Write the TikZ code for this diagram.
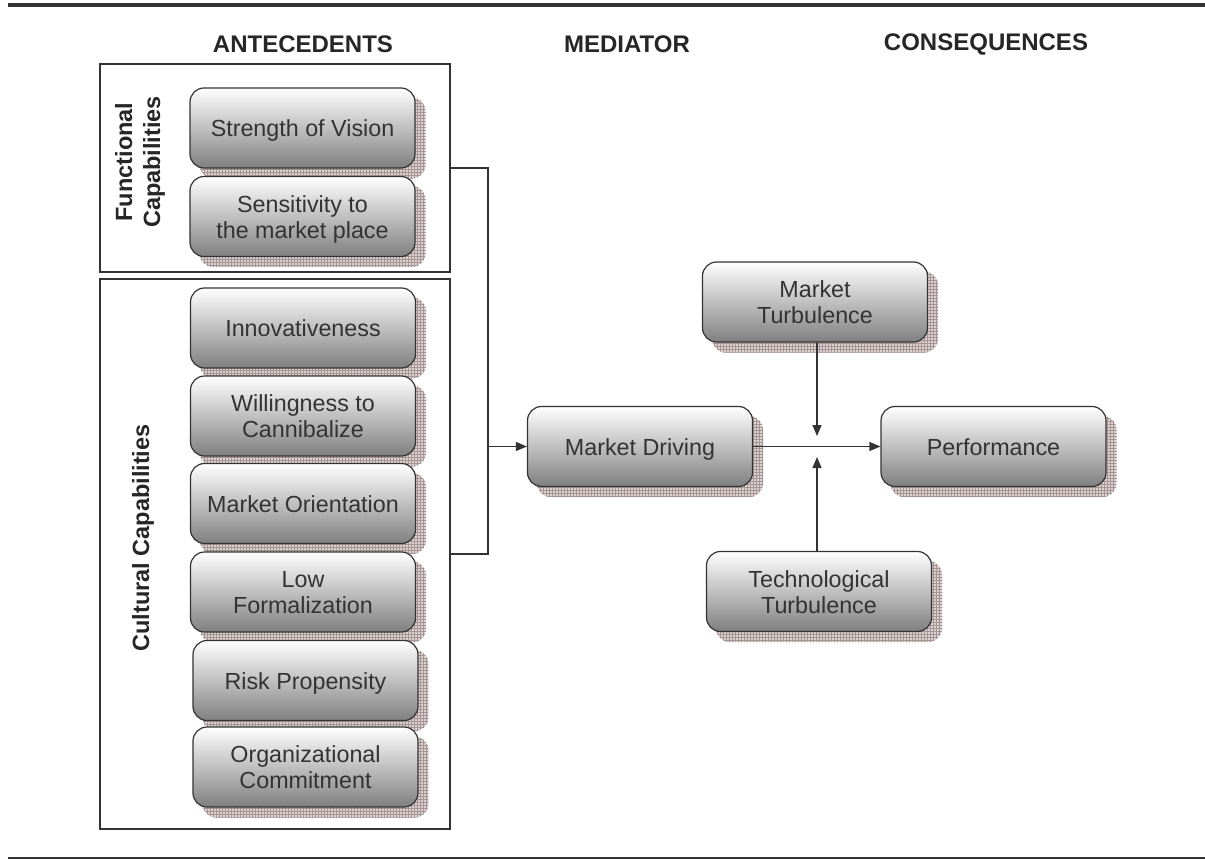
\documentclass[tikz,border=0pt]{standalone}
\usepackage{fontspec}
\setmainfont{Liberation Sans}
\usetikzlibrary{patterns,backgrounds,arrows.meta}
\definecolor{ink}{HTML}{333333}
\definecolor{shadowc}{HTML}{DDD2D2}
\definecolor{gridc}{HTML}{A49494}
\newcommand\tsx{\rule{0pt}{23pt}}
\newcommand\bsx{\rule[-6pt]{0pt}{6pt}}
\begin{document}
\begin{tikzpicture}[x=1pt,y=-1pt,
  box/.style={draw=ink, line width=1.2pt, rounded corners=14pt, top color=white,
    bottom color=black!50, minimum width=225pt, minimum height=80pt, align=center,
    text=black!80, font=\fontsize{23.3}{26}\selectfont, inner sep=0pt},
  frame/.style={draw=ink, line width=1.1pt, inner sep=0pt},
  hdr/.style={font=\fontsize{24}{28}\selectfont\bfseries, text=black!85, inner sep=0pt},
  vlab/.style={font=\fontsize{23.5}{28}\selectfont\bfseries, text=black!85, align=center, rotate=90, inner sep=0pt},
  ln/.style={draw=ink, line width=1.2pt},
  arr/.style={ln, -{Triangle[length=11pt,width=9pt]}},
  shd/.style={rounded corners=14pt}]
\useasboundingbox (0,0) rectangle (1205,859);
\fill[ink] (8,3) rectangle (1205,7.5);
\fill[ink] (8,856.5) rectangle (1205,859);

\node[hdr] (h1) at (303,44) {ANTECEDENTS};
\node[hdr] (h2) at (627,44) {MEDIATOR};
\node[hdr] (h3) at (986,44) {CONSEQUENCES};

\node[frame, minimum width=350pt, minimum height=208pt] (fc) at (275,168) {};
\node[frame, minimum width=350pt, minimum height=550pt] (cc) at (275,554) {};
\node[vlab] (fl) at (140,162) {Functional\\Capabilities};
\node[vlab] (cl) at (143,538) {Cultural Capabilities};

\node[box] (sv) at (302.5,128) {\tsx\bsx Strength of Vision};
\node[box] (sm) at (302.5,216.5) {\tsx Sensitivity to\\the market place\bsx};
\node[box] (in) at (303,328) {\tsx\bsx Innovativeness};
\node[box] (wc) at (303,416) {\tsx Willingness to\\Cannibalize\bsx};
\node[box] (mo) at (303,503.5) {\tsx\bsx Market Orientation};
\node[box] (lf) at (303,592) {\tsx Low\\Formalization\bsx};
\node[box] (rp) at (305.5,680.5) {\tsx\bsx Risk Propensity};
\node[box] (oc) at (305.5,767) {\tsx Organizational\\Commitment\bsx};
\node[box] (md) at (640,446.5) {\tsx\bsx Market Driving};
\node[box] (mt) at (815,302) {\tsx Market\\Turbulence\bsx};
\node[box] (pf) at (993.5,446.5) {\tsx\bsx Performance};
\node[box] (tt) at (819,591.5) {\tsx Technological\\Turbulence\bsx};

\begin{scope}[on background layer]
\foreach \n in {sv,sm,in,wc,mo,lf,rp,oc,md,mt,pf,tt}{
  \fill[shadowc, shd] ([xshift=10pt,yshift=-10pt]\n.north west) rectangle ([xshift=10pt,yshift=-10pt]\n.south east);
  \fill[pattern=grid, pattern color=gridc, shd] ([xshift=10pt,yshift=-10pt]\n.north west) rectangle ([xshift=10pt,yshift=-10pt]\n.south east);
}
\end{scope}

\coordinate (bus) at (488,446.5);
\coordinate (j) at (817,446.5);
\coordinate (ja) at (817,436);
\coordinate (jb) at (817,457);
\draw[ln] (fc.east) -| (bus) |- (cc.east);
\draw[arr] (bus) -- (md.west);
\draw[arr] (md.east) -- (pf.west);
\draw[arr] (mt.south -| j) -- (ja);
\draw[arr] (tt.north -| j) -- (jb);
\end{tikzpicture}
\end{document}
